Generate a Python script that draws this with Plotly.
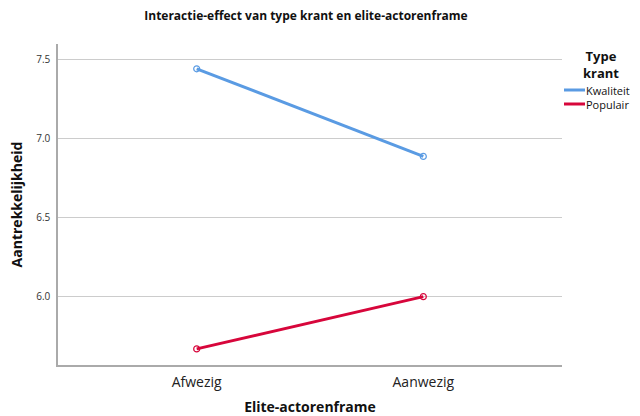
import plotly.graph_objects as go

categories = ["Afwezig", "Aanwezig"]
series_names = ["Kwaliteit", "Populair"]
kwaliteit = [7.443, 6.888]
populair = [5.669, 6.000]
y_ticks = [6.0, 6.5, 7.0, 7.5]
y_tick_labels = ["6.0", "6.5", "7.0", "7.5"]
legend_title = "Type<br>krant"

colors = ["#5A9BE3", "#D7063B"]
FONT = "Open Sans"

# plot area in pixels: x 58..562, y 44..365
PX0, PX1, PY0, PY1 = 58, 562, 44, 365
def px(x):
    return (x - PX0) / (PX1 - PX0)
def py(y):
    return (PY1 - y) / (PY1 - PY0)

fig = go.Figure()
for name, vals, col in zip(series_names, [kwaliteit, populair], colors):
    fig.add_trace(go.Scatter(
        x=[0, 1], y=vals, mode="lines+markers", name=name,
        line=dict(color=col, width=3),
        marker=dict(symbol="circle-open", size=6, color=col, line=dict(width=1.2, color=col)),
        showlegend=False,
    ))

# legend drawn as paper-positioned shapes + text
legend_rows_y = [90, 104]
for name, col, ly in zip(series_names, colors, legend_rows_y):
    fig.add_shape(type="line", xref="paper", yref="paper",
                  x0=px(564), x1=px(585), y0=py(ly), y1=py(ly),
                  line=dict(color=col, width=3))
    fig.add_annotation(text=name, xref="paper", yref="paper", x=px(584), y=py(ly),
                       xanchor="left", yanchor="middle", showarrow=False,
                       font=dict(size=11, color="#111", family=FONT))
fig.add_annotation(text="<b>" + legend_title + "</b>", xref="paper", yref="paper",
                   x=px(601), y=py(64.5), xanchor="center", yanchor="middle",
                   showarrow=False, align="center",
                   font=dict(size=13, color="#111", family=FONT))

fig.update_layout(
    width=640, height=416,
    margin=dict(l=PX0, r=640 - PX1, t=PY0, b=416 - PY1, autoexpand=False),
    paper_bgcolor="white", plot_bgcolor="white",
    font=dict(family=FONT, color="#222"),
    title=dict(text="<b>Interactie-effect van type krant en elite-actorenframe</b>",
               x=306/640, xanchor="center", y=1-16/416, yanchor="middle",
               font=dict(size=12, family=FONT, color="#111"), automargin=False),
    showlegend=False,
    xaxis=dict(
        tickmode="array", tickvals=[0, 1], ticktext=categories,
        range=[-0.612, 1.612], showgrid=False, zeroline=False,
        showline=True, linecolor="#aaaaaa", linewidth=1.5, ticks="",
        ticklabelstandoff=3, automargin=False,
        tickfont=dict(size=14, color="#222"),
        title=dict(text="<b>Elite-actorenframe</b>", font=dict(size=14, color="#111"), standoff=13),
    ),
    yaxis=dict(
        tickmode="array", tickvals=y_ticks, ticktext=y_tick_labels,
        range=[5.567, 7.60], showgrid=True, gridcolor="#cccccc", gridwidth=1,
        zeroline=False, showline=True, linecolor="#aaaaaa", linewidth=1.5, ticks="",
        ticklabelstandoff=4, automargin=False,
        tickfont=dict(size=10, color="#333"),
        title=dict(text="<b>Aantrekkelijkheid</b>", font=dict(size=14, color="#111"), standoff=10),
    ),
)

fig.write_html("out.html", config={"displayModeBar": False},
               post_script="document.body.style.margin='0';document.body.style.overflow='hidden';")
